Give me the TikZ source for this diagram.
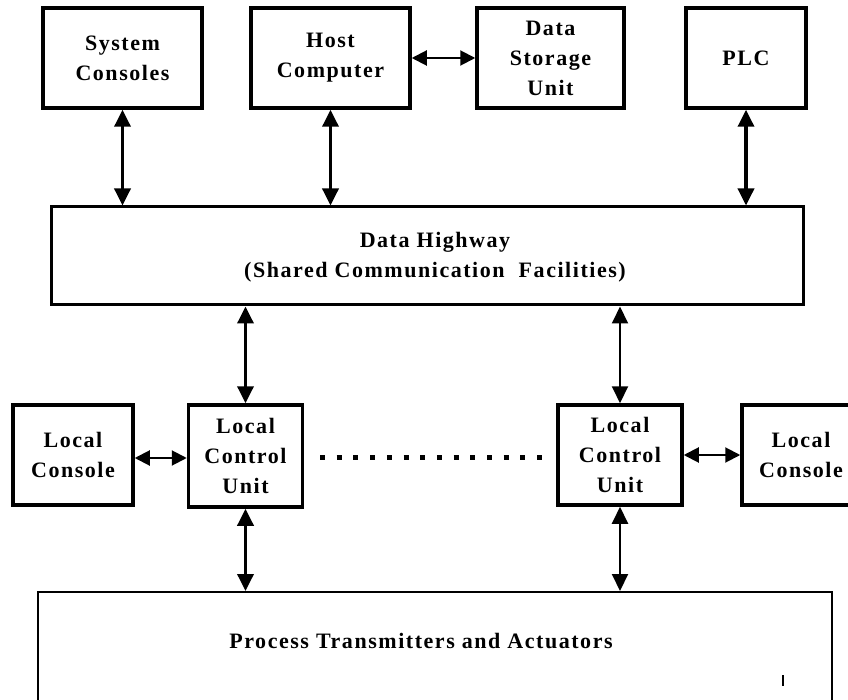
\documentclass[tikz,border=0pt]{standalone}
\usepackage{fontspec}
\setmainfont{Liberation Serif}[LetterSpace=7]
\usetikzlibrary{arrows.meta}
\begin{document}
\begin{tikzpicture}[x=1pt,y=-1pt,
  box/.style={draw,line width=3.5pt,rectangle,inner sep=0pt,align=center,
    font=\fontsize{22}{30}\selectfont\bfseries},
  link/.style={line width=3.5pt,{Triangle[length=17pt,width=16pt]}-{Triangle[length=17pt,width=16pt]}},
  thinlink/.style={line width=2pt,{Triangle[length=15pt,width=15pt]}-{Triangle[length=15pt,width=15pt]}},
  label/.style={font=\fontsize{22}{30}\selectfont\bfseries,align=center}]
\useasboundingbox (0,0) rectangle (848,700);
\begin{scope}
\clip (0,0) rectangle (848,700);

% top row
\node[box,minimum width=159pt,minimum height=100pt] (sys) at (122.5,58) {System\\Consoles};
\node[box,minimum width=159pt,minimum height=100pt] (host) at (330.5,58) {Host\\Computer};
\node[box,minimum width=147pt,minimum height=100pt] (store) at (550.5,58) {Data\\Storage\\Unit};
\node[box,minimum width=120pt,minimum height=100pt] (plc) at (746,58) {PLC};

% data highway
\node[draw,line width=3pt,minimum width=752pt,minimum height=98pt,inner sep=0pt] (hwy) at (427,256) {};
\node[label] (hwytext) at (435,257) {Data Highway\\(Shared Communication\ \ Facilities)};

% local units
\node[box,minimum width=120pt,minimum height=100pt] (lcL) at (73,455) {Local\\Console};
\node[box,minimum width=114pt,minimum height=102pt] (lcuL) at (245.5,456) {Local\\Control\\Unit};
\node[box,minimum width=124pt,minimum height=100pt] (lcuR) at (620,455) {Local\\Control\\Unit};
\node[box,minimum width=118pt,minimum height=100pt] (lcR) at (801,455) {Local\\Console};

% field devices
\node[draw,line width=2pt,minimum width=794pt,minimum height=130pt,inner sep=0pt] (proc) at (435,657) {};
\node[label] (proctext) at (421,641) {Process Transmitters and Actuators};
\draw[line width=2pt] (783,675) -- (783,686);

% connections
\draw[link] (sys.south) -- (sys.south |- hwy.north);
\draw[link] (host.south) -- (host.south |- hwy.north);
\draw[link] (plc.south) -- (plc.south |- hwy.north);
\draw[thinlink] (host.east) -- (store.west);
\draw[link] (lcuL.north) -- (lcuL.north |- hwy.south);
\draw[link,line width=2pt] (lcuR.north) -- (lcuR.north |- hwy.south);
\draw[thinlink] (lcL.east |- 0,458) -- (lcuL.west |- 0,458);
\draw[thinlink] (lcuR.east) -- (lcR.west);
\draw[link] (lcuL.south) -- (lcuL.south |- proc.north);
\draw[link,line width=2pt] (lcuR.south) -- (lcuR.south |- proc.north);

% dotted ellipsis between the control units
\coordinate (dotA) at (320,457);
\coordinate (dotB) at (542,457);
\draw[line width=5pt,dash pattern=on 5pt off 11.7pt] (dotA) -- (dotB);
\end{scope}
\end{tikzpicture}
\end{document}
